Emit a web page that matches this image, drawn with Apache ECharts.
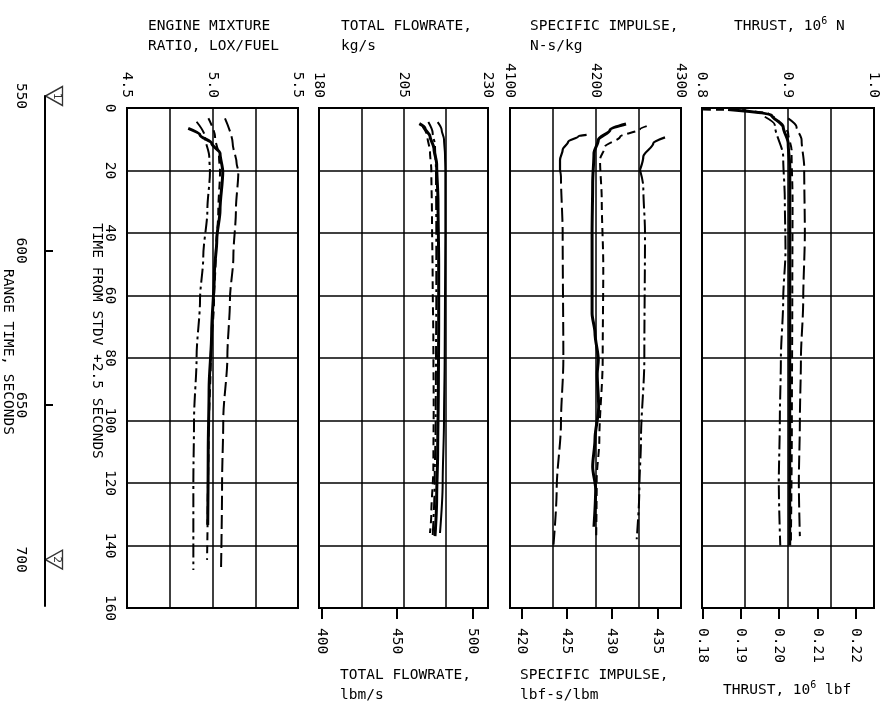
<!DOCTYPE html>
<html><head><meta charset="utf-8">
<script src="https://cdn.jsdelivr.net/npm/echarts@6/dist/echarts.min.js"></script>
<style>html,body{margin:0;padding:0;background:#fff}#c{width:886px;height:717px}</style>
</head><body><div id="c"></div>
<script>
// ---------- DATA ----------
// time from STDV +2.5 s (vertical axis) and values per curve
// Panel 1: engine mixture ratio, LOX/fuel
const mrSolidT = [6.5, 8.6, 11.3, 14.5, 20.4, 32.6, 42.2, 52.9, 72.1, 90, 110, 133.4];
const mrSolidV = [4.858, 4.927, 4.995, 5.044, 5.060, 5.044, 5.025, 5.011, 4.995, 4.980, 4.975, 4.972];
const mrDashDotT = [4.4, 9.2, 15.6, 20.4, 32.6, 47.6, 61.4, 79.6, 99.8, 120, 147.8];
const mrDashDotV = [4.907, 4.956, 4.981, 4.985, 4.970, 4.946, 4.927, 4.907, 4.892, 4.888, 4.888];
const mrDashT = [3.3, 9.2, 15.6, 20.4, 32.6, 47.6, 61.4, 79.6, 106, 127.6, 144.6];
const mrDashV = [4.976, 5.015, 5.038, 5.044, 5.034, 5.019, 5.009, 4.99, 4.977, 4.972, 4.968];
const mrLongDashT = [3.3, 11.3, 17.7, 20.4, 32.6, 47.6, 61.4, 79.6, 99.8, 120, 147.3];
const mrLongDashV = [5.073, 5.118, 5.141, 5.151, 5.137, 5.122, 5.102, 5.087, 5.063, 5.056, 5.050];

// Panel 2: total flowrate, kg/s
const flSolidT = [5, 6.5, 9, 13, 18, 30, 50, 70, 90, 110, 125, 137];
const flSolidV = [209.68, 211.36, 212.84, 214.02, 214.81, 215.21, 215.41, 215.41, 215.31, 215.11, 214.81, 214.32];
const flDashT = [6, 9, 14, 20, 35, 55, 75, 95, 115, 130, 136];
const flDashV = [210.67, 212.05, 212.84, 213.23, 213.43, 213.63, 213.83, 213.93, 213.83, 213.23, 212.84];
const flDashDotT = [4.5, 8, 12, 20, 40, 60, 80, 100, 120, 137];
const flDashDotV = [212.35, 213.63, 214.32, 214.62, 214.71, 214.71, 214.62, 214.52, 214.22, 213.63];
const flThinT = [4.5, 7, 10, 15, 20, 40, 60, 80, 100, 120, 136];
const flThinV = [215.11, 216.29, 216.98, 217.28, 217.38, 217.38, 217.28, 217.18, 216.98, 216.59, 215.80];

// Panel 3: specific impulse, N-s/kg
const ispLeftCurveT = [8.6, 9, 10.8, 13.4, 16.6, 19.8];
const ispLeftCurveV = [4189.6, 4180, 4168, 4161.6, 4158.5, 4158.5];
const ispLeftDashT = [19.8, 22, 40, 80.6, 100.8, 122, 140.4];
const ispLeftDashV = [4158.5, 4159.6, 4161.6, 4162.4, 4159.6, 4154.6, 4150.7];
const ispSolidT = [5.1, 7, 10.2, 14.5, 24, 40, 65.7, 72, 80.6, 85, 95.6, 106, 114.8, 122, 134];
const ispSolidV = [4235.7, 4217, 4203.3, 4198.2, 4196.7, 4196, 4196, 4199.4, 4203.3, 4202, 4203.7, 4199.4, 4196.7, 4200.2, 4198.2];
const ispMidDashT = [5.8, 6.8, 9.2, 12.4, 16.6, 29.4, 50.8, 80.6, 106, 119, 138];
const ispMidDashV = [4259.9, 4252, 4228.7, 4211, 4205.3, 4207.3, 4209.1, 4208.4, 4204.5, 4201.4, 4200.8];
const ispRightCurveT = [9.4, 11.3, 15.6, 19.8];
const ispRightCurveV = [4281.3, 4267.6, 4255.9, 4252];
const ispRightDashT = [19.8, 25.2, 40, 80.6, 106, 122, 138];
const ispRightDashV = [4252, 4255.9, 4257.9, 4257.1, 4253.2, 4251.3, 4248.2];

// Panel 4: thrust, 10^6 N
const thDashT = [0.5, 0.7, 1.7, 3.8, 8.1, 13.4, 29.4, 60, 100, 140];
const thDashV = [0.8012, 0.8497, 0.8769, 0.8885, 0.9002, 0.9041, 0.9053, 0.905, 0.9045, 0.9033];
const thSolidT = [0.5, 2.2, 6, 11.3, 18.8, 50.8, 80, 110, 140];
const thSolidV = [0.8303, 0.8808, 0.8944, 0.9002, 0.9021, 0.9021, 0.902, 0.902, 0.902];
const thDashDotT = [2.8, 5.4, 15.6, 29.4, 45.4, 61.4, 80.6, 100, 120, 140];
const thDashDotV = [0.8730, 0.8847, 0.8944, 0.8963, 0.8971, 0.8944, 0.8917, 0.8905, 0.8893, 0.891];
const thLongDashT = [3.3, 6, 10.2, 18.8, 40, 61.4, 80.6, 100, 120, 137];
const thLongDashV = [0.9002, 0.9099, 0.9158, 0.9188, 0.9196, 0.9177, 0.9150, 0.9138, 0.9126, 0.9138];

// Axis ticks / labels
const flowLbmTicks = [400, 450, 500];
const ispLbfTicks = [420, 425, 430, 435];
const thrustLbfTicks = [0.18, 0.19, 0.20, 0.21, 0.22];
const rangeTickValues = [600, 650];
const rangeLabelValues = [550, 600, 650, 700];
const rangeMarks = [550, 700];
const rangeMarkLabels = ['1', '2'];

// ---------- CHART ----------
const FONT = 'DejaVu Sans Mono';
const FS = 14.5;
const lab = (extra) => Object.assign({fontFamily: FONT, fontSize: FS, color: '#000'}, extra);
const gridLine = {show: true, lineStyle: {color: '#000', width: 1.5}};

const panels = [{left: 127, width: 171}, {left: 319, width: 169}, {left: 510, width: 171}, {left: 702, width: 172}];
const grids = panels.map(p => ({left: p.left, top: 108, width: p.width, height: 500, show: true, borderColor: '#000', borderWidth: 2, backgroundColor: 'transparent'}));
grids.push({left: 45, top: 96, width: 20, height: 510, show: false});

function topAxis(gi, min, max, interval, fmt) {
  return {gridIndex: gi, type: 'value', position: 'top', min, max, interval,
    axisLine: {show: false}, axisTick: {show: false}, splitLine: gridLine,
    axisLabel: lab({rotate: -90, margin: 10, formatter: fmt})};
}
function bottomAxis(gi, min, max, ticks, fmt) {
  return {gridIndex: gi, type: 'value', position: 'bottom', min, max,
    axisLine: {show: true, onZero: false, lineStyle: {color: '#000', width: 2}},
    axisTick: {show: true, length: 11, customValues: ticks, lineStyle: {color: '#000', width: 2}},
    splitLine: {show: false},
    axisLabel: lab({rotate: -90, margin: 20, customValues: ticks, formatter: fmt})};
}
const near = (a, b) => Math.abs(a - b) < 1e-6;
const xAxes = [
  topAxis(0, 4.5, 5.5, 0.25, v => near(v * 2, Math.round(v * 2)) ? v.toFixed(1) : ''),
  topAxis(1, 180, 230, 12.5, v => near((v - 180) % 25, 0) ? String(v) : ''),
  bottomAxis(1, 398.2, 510.4, flowLbmTicks, v => String(v)),
  topAxis(2, 4100, 4300, 50, v => near(v % 100, 0) ? String(v) : ''),
  bottomAxis(2, 418.7, 437.6, ispLbfTicks, v => String(v)),
  topAxis(3, 0.8, 1.0, 0.05, v => near(v * 10, Math.round(v * 10)) ? v.toFixed(1) : ''),
  bottomAxis(3, 0.8 / 4.44822, 1.0 / 4.44822, thrustLbfTicks, v => v.toFixed(2)),
  {gridIndex: 4, type: 'value', min: 0, max: 1, show: false}
];
const yAxes = [0, 1, 2, 3].map(i => ({gridIndex: i, type: 'value', inverse: true, min: 0, max: 160, interval: 20,
  axisLine: {show: false}, axisTick: {show: false}, splitLine: gridLine,
  axisLabel: lab({show: i === 0, rotate: -90, margin: 10})}));
yAxes.push({gridIndex: 4, type: 'value', inverse: true, min: 550, max: 715, interval: 50, position: 'left',
  axisLine: {show: true, lineStyle: {color: '#000', width: 2}},
  axisTick: {show: true, inside: true, length: 8, customValues: rangeTickValues, lineStyle: {color: '#000', width: 2}},
  splitLine: {show: false},
  axisLabel: lab({rotate: -90, margin: 17, customValues: rangeLabelValues})});

const STY = {
  solid: {type: 'solid', width: 3},
  thin: {type: 'solid', width: 2},
  curve: {type: 'solid', width: 2.2},
  dash: {type: [8, 5], width: 2},
  longDash: {type: [14, 5], width: 2},
  dashDot: {type: [14, 4, 3, 4], width: 2}
};
function line(ax, ts, vs, sty) {
  return {type: 'line', xAxisIndex: ax, yAxisIndex: [0, 1, 1, 2, 2, 3, 3][ax], showSymbol: false, symbol: 'none',
    smooth: 0.3, smoothMonotone: 'y', animation: false,
    lineStyle: Object.assign({color: '#000'}, sty),
    data: ts.map((t, i) => [vs[i], t])};
}
const series = [
  line(0, mrSolidT, mrSolidV, STY.solid),
  line(0, mrDashDotT, mrDashDotV, STY.dashDot),
  line(0, mrDashT, mrDashV, STY.dash),
  line(0, mrLongDashT, mrLongDashV, STY.longDash),
  line(1, flSolidT, flSolidV, STY.solid),
  line(1, flDashT, flDashV, STY.dash),
  line(1, flDashDotT, flDashDotV, STY.dashDot),
  line(1, flThinT, flThinV, STY.thin),
  line(3, ispLeftCurveT, ispLeftCurveV, STY.curve),
  line(3, ispLeftDashT, ispLeftDashV, STY.longDash),
  line(3, ispSolidT, ispSolidV, STY.solid),
  line(3, ispMidDashT, ispMidDashV, STY.dash),
  line(3, ispRightCurveT, ispRightCurveV, STY.curve),
  line(3, ispRightDashT, ispRightDashV, STY.dashDot),
  line(5, thDashT, thDashV, STY.dash),
  line(5, thSolidT, thSolidV, STY.solid),
  line(5, thDashDotT, thDashDotV, STY.dashDot),
  line(5, thLongDashT, thLongDashV, STY.longDash),
  {type: 'scatter', xAxisIndex: 7, yAxisIndex: 4, symbol: 'triangle', symbolSize: [19, 17], symbolRotate: 90,
   itemStyle: {color: '#fff', borderColor: '#000', borderWidth: 1.4}, animation: false, z: 5, silent: true,
   data: rangeMarks.map(r => [0.45, r])},
  {type: 'scatter', xAxisIndex: 7, yAxisIndex: 4, symbol: 'circle', symbolSize: 2, animation: false, z: 6, silent: true,
   itemStyle: {color: 'rgba(0,0,0,0)'},
   label: {show: true, position: 'inside', rotate: -90, fontFamily: FONT, fontSize: 11, color: '#000',
     formatter: p => p.value[2]},
   labelLayout: {hideOverlap: false},
   data: rangeMarks.map((r, i) => [0.6, r, rangeMarkLabels[i]])}
];

const tStyle = {fontFamily: FONT, fontSize: FS, fontWeight: 'normal', color: '#000', lineHeight: 20,
  rich: {s: {fontFamily: FONT, fontSize: 10, verticalAlign: 'top', lineHeight: 12, color: '#000'}}};
const mkTitle = (left, top, text) => ({left, top, text, padding: 0, textStyle: tStyle});
const titles = [
  mkTitle(148, 16, 'ENGINE MIXTURE\nRATIO, LOX/FUEL'),
  mkTitle(341, 16, 'TOTAL FLOWRATE,\nkg/s'),
  mkTitle(530, 16, 'SPECIFIC IMPULSE,\nN-s/kg'),
  mkTitle(734, 16, 'THRUST, 10{s|6} N'),
  mkTitle(340, 665, 'TOTAL FLOWRATE,\nlbm/s'),
  mkTitle(520, 665, 'SPECIFIC IMPULSE,\nlbf-s/lbm'),
  mkTitle(723, 680, 'THRUST, 10{s|6} lbf')
];

const chart = echarts.init(document.getElementById('c'), null, {renderer: 'canvas'});
chart.setOption({
  backgroundColor: '#fff',
  animation: false,
  title: titles,
  grid: grids,
  xAxis: xAxes,
  yAxis: yAxes,
  series: series,
  graphic: [
    {type: 'text', x: 97, y: 341, rotation: -Math.PI / 2,
     style: {text: 'TIME FROM STDV +2.5 SECONDS', font: FS + 'px "' + FONT + '"', fill: '#000', align: 'center', verticalAlign: 'middle'}},
    {type: 'text', x: 8, y: 352, rotation: -Math.PI / 2,
     style: {text: 'RANGE TIME, SECONDS', font: FS + 'px "' + FONT + '"', fill: '#000', align: 'center', verticalAlign: 'middle'}}
  ]
});
</script></body></html>
